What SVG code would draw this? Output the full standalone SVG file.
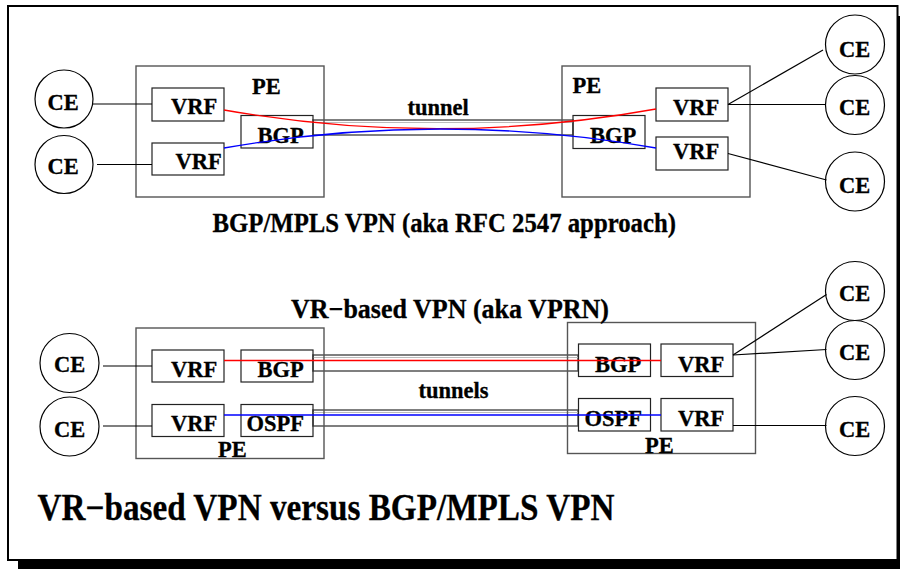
<svg xmlns="http://www.w3.org/2000/svg" width="900" height="569" viewBox="0 0 900 569">
<style>
text{font-family:"Liberation Serif","Times New Roman",serif;font-weight:bold;fill:#000;stroke:#000;stroke-width:0.3}
.lbl{font-size:22.5px}
.sub{font-size:27px}
.title{font-size:37px}
.pe{fill:none;stroke:#555;stroke-width:1.4}
.box{fill:none;stroke:#222;stroke-width:1.2}
.ce{fill:#fff;stroke:#000;stroke-width:1.2}
.ln{fill:none;stroke:#000;stroke-width:1.2}
.tun{fill:none;stroke:#555;stroke-width:1.5}
.tin{fill:none;stroke:#bbb;stroke-width:1}
.red{fill:none;stroke:#f00;stroke-width:1.3}
.blue{fill:none;stroke:#00f;stroke-width:1.3}
</style>
<rect x="0" y="0" width="900" height="569" fill="#fff"/>
<!-- frame with shadow -->
<rect x="18" y="16" width="889" height="554" fill="#000"/>
<rect x="8" y="6" width="889.5" height="554" fill="#fff" stroke="#000" stroke-width="2"/>

<!-- tunnels -->
<g id="tunnels">
  <rect class="tun" x="313" y="120" width="260" height="15"/>
  <line class="tin" x1="313" y1="122.5" x2="573" y2="122.5"/>
  <rect class="tun" x="313" y="355" width="265" height="16"/>
  <line class="tin" x1="313" y1="357.5" x2="578" y2="357.5"/>
  <rect class="tun" x="313" y="410" width="265" height="16"/>
  <line class="tin" x1="313" y1="412.5" x2="578" y2="412.5"/>
</g>

<!-- top section PEs -->
<g id="pe-top-left">
  <rect class="pe" x="136" y="66" width="188" height="131"/>
  <text class="lbl" x="252" y="94">PE</text>
</g>
<g id="vrf-top-left-1">
  <rect class="box" x="152" y="88" width="72" height="33"/>
  <text class="lbl" x="171" y="114">VRF</text>
</g>
<g id="vrf-top-left-2">
  <rect class="box" x="152" y="143" width="72" height="32"/>
  <text class="lbl" x="175.5" y="169">VRF</text>
</g>
<g id="bgp-top-left">
  <rect class="box" x="241" y="115.5" width="72" height="32.5"/>
  <text class="lbl" x="257.5" y="142.5">BGP</text>
</g>
<g id="ce-top-left-1">
  <circle class="ce" cx="64" cy="99" r="29"/>
  <text class="lbl" x="47.5" y="110">CE</text>
</g>
<g id="ce-top-left-2">
  <circle class="ce" cx="64" cy="164.5" r="29"/>
  <text class="lbl" x="47.5" y="174">CE</text>
</g>

<g id="pe-top-right">
  <rect class="pe" x="562" y="66" width="188" height="131"/>
  <text class="lbl" x="572.5" y="93">PE</text>
</g>
<g id="bgp-top-right">
  <rect class="box" x="573" y="115.5" width="72" height="33"/>
  <text class="lbl" x="590" y="142.5">BGP</text>
</g>
<g id="vrf-top-right-1">
  <rect class="box" x="656" y="88" width="72" height="33"/>
  <text class="lbl" x="673" y="115">VRF</text>
</g>
<g id="vrf-top-right-2">
  <rect class="box" x="656" y="137" width="72" height="33"/>
  <text class="lbl" x="673" y="158.5">VRF</text>
</g>
<g id="ce-top-right-1">
  <circle class="ce" cx="855" cy="44.5" r="29.5"/>
  <text class="lbl" x="839" y="56.5">CE</text>
</g>
<g id="ce-top-right-2">
  <circle class="ce" cx="855" cy="105" r="29.5"/>
  <text class="lbl" x="839" y="115">CE</text>
</g>
<g id="ce-top-right-3">
  <circle class="ce" cx="855" cy="181.5" r="29.5"/>
  <text class="lbl" x="839" y="192.5">CE</text>
</g>

<!-- bottom section -->
<g id="pe-bottom-left">
  <rect class="pe" x="136" y="328" width="188" height="130.5"/>
  <text class="lbl" x="218" y="456.5">PE</text>
</g>
<g id="vrf-bottom-left-1">
  <rect class="box" x="152" y="350" width="72" height="32"/>
  <text class="lbl" x="171" y="377">VRF</text>
</g>
<g id="bgp-bottom-left">
  <rect class="box" x="241" y="350" width="72" height="32"/>
  <text class="lbl" x="257.5" y="377">BGP</text>
</g>
<g id="vrf-bottom-left-2">
  <rect class="box" x="152" y="404.5" width="72" height="32"/>
  <text class="lbl" x="171" y="431">VRF</text>
</g>
<g id="ospf-bottom-left">
  <rect class="box" x="241" y="404.5" width="72" height="32"/>
  <text class="lbl" x="246.5" y="431">OSPF</text>
</g>
<g id="ce-bottom-left-1">
  <circle class="ce" cx="69.5" cy="363" r="29.5"/>
  <text class="lbl" x="54" y="371.5">CE</text>
</g>
<g id="ce-bottom-left-2">
  <circle class="ce" cx="69.5" cy="426.5" r="29.5"/>
  <text class="lbl" x="54" y="436.5">CE</text>
</g>

<g id="pe-bottom-right">
  <rect class="pe" x="567.5" y="322.5" width="188" height="131" stroke="#222"/>
  <text class="lbl" x="645" y="452.5">PE</text>
</g>
<g id="bgp-bottom-right">
  <rect class="box" x="578.5" y="344" width="72" height="32.5"/>
  <text class="lbl" x="595" y="371.5">BGP</text>
</g>
<g id="vrf-bottom-right-1">
  <rect class="box" x="661" y="344" width="72" height="32.5"/>
  <text class="lbl" x="678" y="371.5">VRF</text>
</g>
<g id="ospf-bottom-right">
  <rect class="box" x="578.5" y="398.5" width="72" height="32.5"/>
  <text class="lbl" x="584.5" y="425.5">OSPF</text>
</g>
<g id="vrf-bottom-right-2">
  <rect class="box" x="661" y="398.5" width="72" height="32.5"/>
  <text class="lbl" x="678" y="425.5">VRF</text>
</g>
<g id="ce-bottom-right-1">
  <circle class="ce" cx="855" cy="291" r="29.5"/>
  <text class="lbl" x="839" y="300.5">CE</text>
</g>
<g id="ce-bottom-right-2">
  <circle class="ce" cx="855" cy="350" r="29.5"/>
  <text class="lbl" x="839" y="360">CE</text>
</g>
<g id="ce-bottom-right-3">
  <circle class="ce" cx="855" cy="426" r="29.5"/>
  <text class="lbl" x="839" y="436.5">CE</text>
</g>

<!-- connectors -->
<g id="connectors">
  <line class="ln" x1="93" y1="104" x2="152" y2="104"/>
  <line class="ln" x1="97" y1="164.5" x2="152" y2="164.5"/>
  <line class="ln" x1="728" y1="104.5" x2="823" y2="50"/>
  <line class="ln" x1="728" y1="104.5" x2="826" y2="104.5"/>
  <line class="ln" x1="728" y1="153.5" x2="826.5" y2="180"/>
  <path class="red" d="M224,110 Q440,148 656,109"/>
  <path class="blue" d="M224,148 Q440,110 656,148"/>

  <line class="ln" x1="103" y1="366" x2="152" y2="366"/>
  <line class="ln" x1="103" y1="426" x2="152" y2="426"/>
  <line class="ln" x1="733" y1="355" x2="826.5" y2="294.5"/>
  <line class="ln" x1="733" y1="355" x2="826.5" y2="349.5"/>
  <line class="ln" x1="733" y1="425.5" x2="826.5" y2="425.5"/>
  <line class="red" x1="224" y1="360.5" x2="661" y2="360.5"/>
  <line class="blue" x1="224" y1="415" x2="661" y2="415"/>
</g>

<!-- labels -->
<text class="lbl" x="407.5" y="115">tunnel</text>
<text class="lbl" x="418.5" y="398">tunnels</text>
<text class="sub" x="212.5" y="231.5" textLength="463.5" lengthAdjust="spacingAndGlyphs">BGP/MPLS VPN (aka RFC 2547 approach)</text>
<text class="sub" x="291" y="318" textLength="318" lengthAdjust="spacingAndGlyphs">VR−based VPN (aka VPRN)</text>
<text class="title" x="37.5" y="520" textLength="577" lengthAdjust="spacingAndGlyphs">VR−based VPN versus BGP/MPLS VPN</text>
</svg>
